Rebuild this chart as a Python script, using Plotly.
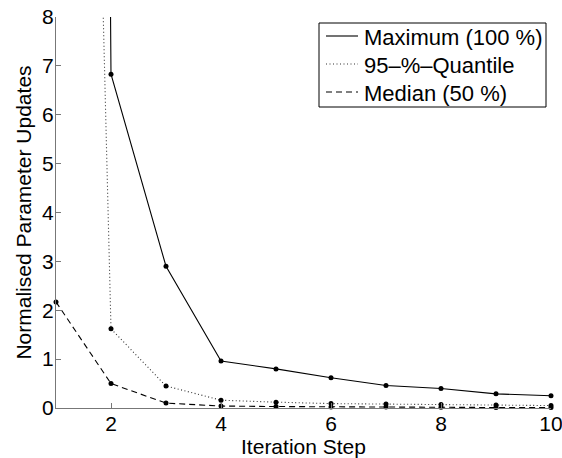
import plotly.graph_objects as go

steps = [1, 2, 3, 4, 5, 6, 7, 8, 9, 10]
maximum = [150.0, 6.83, 2.90, 0.96, 0.80, 0.62, 0.46, 0.40, 0.29, 0.25]
quantile95 = [47.0, 1.62, 0.45, 0.16, 0.12, 0.09, 0.08, 0.07, 0.06, 0.05]
median = [2.17, 0.50, 0.10, 0.04, 0.03, 0.02, 0.02, 0.015, 0.01, 0.01]

names = ["Maximum (100 %)", "95\u2013%\u2013Quantile", "Median (50 %)"]
series = [maximum, quantile95, median]
dashes = ["solid", "1px,2.5px", "6px,4px"]
colors = ["black", "#333333", "black"]

FONT = "Liberation Sans, Arial, Helvetica, sans-serif"

# plot-area geometry (pixels) used only for placing the hand-drawn legend
L, R, T, B = 56, 551, 17, 408
def px(xp):
    return (xp - L) / (R - L)
def py(yp):
    return (B - yp) / (B - T)

fig = go.Figure()
for name, vals, dash, col in zip(names, series, dashes, colors):
    fig.add_trace(go.Scatter(
        x=steps, y=vals, mode="lines", name=name, showlegend=False,
        line=dict(color=col, width=1.1, dash=dash),
    ))
for vals in series:
    fig.add_trace(go.Scatter(
        x=steps, y=vals, mode="markers", showlegend=False,
        marker=dict(color="black", size=5),
        cliponaxis=False, hoverinfo="skip",
    ))

# legend box drawn with shapes + annotations
shapes = [dict(type="rect", xref="paper", yref="paper",
               x0=px(319), x1=px(546), y0=py(107), y1=py(23),
               line=dict(color="black", width=1), fillcolor="white", layer="above")]
annotations = []
row_y = [36, 64, 92]
for name, dash, col, yr in zip(names, dashes, colors, row_y):
    shapes.append(dict(type="line", xref="paper", yref="paper",
                       x0=px(326), x1=px(358), y0=py(yr), y1=py(yr),
                       line=dict(color=col, width=1.1, dash=dash), layer="above"))
    annotations.append(dict(text=name, xref="paper", yref="paper",
                            x=px(362), y=py(yr + 1), xanchor="left", yanchor="middle",
                            showarrow=False, font=dict(family=FONT, size=22, color="black")))

axis_common = dict(
    showgrid=False, zeroline=False, showline=True, linecolor="#777777", linewidth=1,
    ticks="inside", ticklen=5, tickcolor="#777777", tickwidth=1,
    tickfont=dict(family=FONT, size=21, color="black"),
    mirror=False, automargin=False, ticklabeloverflow="allow",
)

fig.update_layout(
    width=562, height=458,
    margin=dict(l=L, r=562 - R, t=T, b=458 - B),
    paper_bgcolor="white", plot_bgcolor="white",
    font=dict(family=FONT, color="black"),
    xaxis=dict(range=[1, 10], tickvals=[2, 4, 6, 8, 10], ticklabelstandoff=-3,
               title=dict(text="Iteration Step", font=dict(family=FONT, size=21), standoff=2),
               **axis_common),
    yaxis=dict(range=[0, 8], tickvals=[0, 1, 2, 3, 4, 5, 6, 7, 8], ticklabelstandoff=-3,
               title=dict(text="Normalised Parameter Updates", font=dict(family=FONT, size=21), standoff=4),
               **axis_common),
    shapes=shapes,
    annotations=annotations,
    showlegend=False,
)

fig.write_html("out.html")
